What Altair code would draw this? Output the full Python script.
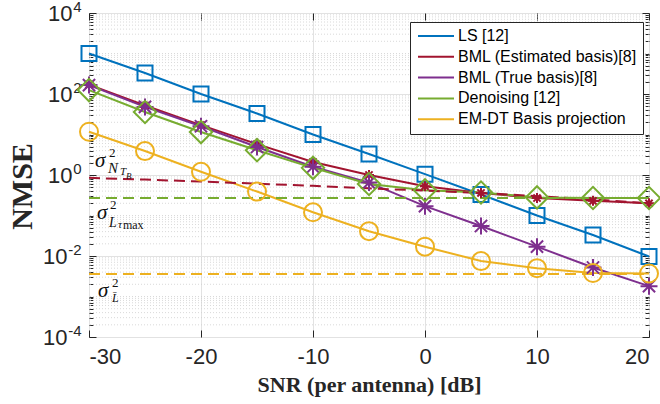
import altair as alt
import pandas as pd

# ---------------- data ----------------
snr = [-30, -25, -20, -15, -10, -5, 0, 5, 10, 15, 20]
ls_nmse = [1000, 330, 100, 33, 10, 3.3, 1.05, 0.33, 0.1, 0.033, 0.0097]
bml_est_nmse = [170, 52, 17, 5.8, 2.1, 1.0, 0.53, 0.36, 0.27, 0.23, 0.2]
bml_true_nmse = [166, 48, 16, 4.9, 1.6, 0.65, 0.17, 0.055, 0.017, 0.0052, 0.0018]
denoise_nmse = [125, 36, 11.5, 4.1, 1.5, 0.6, 0.42, 0.37, 0.28, 0.27, 0.27]
emdt_nmse = [11.7, 3.9, 1.2, 0.39, 0.12, 0.041, 0.017, 0.0075, 0.005, 0.0038, 0.0037]

methods = ["LS [12]", "BML (Estimated basis)[8]", "BML (True basis)[8]",
           "Denoising [12]", "EM-DT Basis projection"]
colors = ["#0072BD", "#A2142F", "#7E2F8E", "#77AC30", "#EDB120"]
series = [ls_nmse, bml_est_nmse, bml_true_nmse, denoise_nmse, emdt_nmse]

# dashed reference levels
ntb_snr = [-30, -25, -20, -15, -10, -5, 0, 5, 10, 15, 20]
ntb_nmse = [0.85, 0.77, 0.69, 0.61, 0.54, 0.47, 0.41, 0.36, 0.3, 0.25, 0.2]
ltau_snr = [-30, 20]
ltau_nmse = [0.27, 0.27]
lbar_snr = [-30, 20]
lbar_nmse = [0.0036, 0.0036]

x_ticks = [-30, -20, -10, 0, 10, 20]
y_ticks = [1e-4, 1e-2, 1, 1e2, 1e4]
y_ticks_neg = [1e-4, 1e-2]
y_minor = [m * 10.0 ** k for k in range(-4, 4) for m in range(2, 10)] + [1e-3, 1e-1, 1e1, 1e3]

# ---------------- layout ----------------
W, H = 560, 324
INK = "#262626"
xscale = alt.Scale(domain=[-30, 20], nice=False, zero=False)
yscale = alt.Scale(type="log", domain=[1e-4, 1e4], nice=False)

rows = []
for m, vals in zip(methods, series):
    for s, v in zip(snr, vals):
        rows.append({"method": m, "snr": s, "nmse": v})
df = pd.DataFrame(rows)


def tick_axis(orient, offset, values, size):
    return alt.Axis(orient=orient, offset=offset, values=values, tickSize=size,
                    ticks=True, labels=False, domain=False, grid=False, title=None,
                    tickColor=INK, tickWidth=1)


layers = []

# minor dotted grid (also carries inner minor ticks on the left edge)
minor_df = pd.DataFrame({"v": y_minor})
layers.append(
    alt.Chart(minor_df).mark_rule(color="#cfcfcf", strokeDash=[1, 2], strokeWidth=0.8).encode(
        y=alt.Y("v:Q", scale=yscale, axis=tick_axis("right", -W, y_minor, 4))
    )
)

# mantissa "10": positive exponents here, negative ones (wider exponent) on another axis
y_base_expr = "datum.value < 0.1 ? '' : '10'"
y_exp_expr = ("datum.value >= 1e3 ? '4' : datum.value >= 10 ? '2' : "
              "datum.value >= 0.1 ? '0' : datum.value >= 1e-3 ? '-2' : '-4'")
x_label_expr = "datum.value < 0 ? '-' + (-datum.value) : '' + datum.value"

lines = alt.Chart(df).mark_line(strokeWidth=2).encode(
    x=alt.X("snr:Q", scale=xscale, axis=alt.Axis(
        values=x_ticks, labelExpr=x_label_expr, grid=True, gridColor="#e2e2e2", gridWidth=1,
        ticks=False, tickSize=0, domain=False, labelFont="Liberation Sans", labelFontSize=22,
        labelColor=INK, labelPadding=9, title="SNR (per antenna) [dB]",
        titleFont="Liberation Serif", titleFontWeight="bold", titleFontSize=22,
        titleColor=INK, titleX=W / 2, titleY=54, titleBaseline="alphabetic",
        titleAlign="center")),
    y=alt.Y("nmse:Q", scale=yscale, axis=alt.Axis(
        values=y_ticks, labelExpr=y_base_expr, grid=True, gridColor="#e2e2e2", gridWidth=1,
        ticks=False, tickSize=0, domain=False, labelFont="Liberation Sans", labelFontSize=22,
        labelColor=INK, labelPadding=17, title="NMSE", titleFont="Liberation Serif",
        titleFontWeight="bold", titleFontSize=30, titleColor=INK, titleAngle=-90,
        titleX=-58, titleY=173, titleBaseline="alphabetic", titleAlign="center")),
    color=alt.Color("method:N", scale=alt.Scale(domain=methods, range=colors),
                    legend=alt.Legend(title=None, orient="none", legendX=321, legendY=9,
                                      fillColor="white", strokeColor=INK, padding=6,
                                      labelFont="Liberation Sans", labelFontSize=16,
                                      labelColor="#000000", symbolType="M-1,0L5,0",
                                      symbolSize=144, symbolStrokeWidth=2, labelOffset=26,
                                      rowPadding=4.8, labelLimit=400)),
)
layers.append(lines)

# dashed levels (carry the inner major ticks)
d1 = pd.DataFrame({"snr": ntb_snr, "nmse": ntb_nmse})
layers.append(alt.Chart(d1).mark_line(strokeWidth=2, strokeDash=[11, 6], color=colors[1]).encode(
    x=alt.X("snr:Q", scale=xscale, axis=tick_axis("top", -H, x_ticks, 7)),
    y=alt.Y("nmse:Q", scale=yscale, axis=tick_axis("right", -W, y_ticks, 7)),
))
d2 = pd.DataFrame({"snr": ltau_snr, "nmse": ltau_nmse})
layers.append(alt.Chart(d2).mark_line(strokeWidth=2, strokeDash=[11, 6], color=colors[3]).encode(
    x=alt.X("snr:Q", scale=xscale, axis=tick_axis("bottom", -H, x_ticks, 7)),
    y=alt.Y("nmse:Q", scale=yscale, axis=tick_axis("left", -W, y_ticks, 7)),
))
d3 = pd.DataFrame({"snr": lbar_snr, "nmse": lbar_nmse})
layers.append(alt.Chart(d3).mark_line(strokeWidth=2, strokeDash=[11, 6], color=colors[4]).encode(
    x=alt.X("snr:Q", scale=xscale, axis=None),
    y=alt.Y("nmse:Q", scale=yscale, axis=tick_axis("left", -W, y_minor, 4)),
))

exp_axis = alt.Axis(orient="left", values=y_ticks, labelExpr=y_exp_expr, ticks=False, tickSize=0,
                    domain=False, grid=False, title=None, labelFont="Liberation Sans",
                    labelFontSize=15, labelColor=INK, labelPadding=8, labelOffset=-7)
neg_base_axis = alt.Axis(orient="left", values=y_ticks_neg, labelExpr="'10'", ticks=False,
                         tickSize=0, domain=False, grid=False, title=None,
                         labelFont="Liberation Sans", labelFontSize=22, labelColor=INK,
                         labelPadding=22)
marker_axes = [exp_axis, neg_base_axis, None, None, None]

# markers
asterisk = "M0,-1L0,1M-1,0L1,0M-0.72,-0.72L0.72,0.72M-0.72,0.72L0.72,-0.72"
marker_specs = [
    ("square", 225),
    (asterisk, 100),
    (asterisk, 289),
    ("diamond", 500),
    ("circle", 324),
]
for m, c, (shape, size), ax in zip(methods, colors, marker_specs, marker_axes):
    layers.append(
        alt.Chart(df[df["method"] == m]).mark_point(
            shape=shape, size=size, filled=False, strokeWidth=2, color=c, opacity=1
        ).encode(
            x=alt.X("snr:Q", scale=xscale, axis=None),
            y=alt.Y("nmse:Q", scale=yscale, axis=ax),
        )
    )

# sigma annotations: anchor (snr, nmse) and pieces (text, size, dx, dy, italic)
anchors = [(-29.46, 1.58), (-29.29, 0.082), (-29.2, 0.00097)]
pieces = [
    [("σ", 21, 0, 0, True), ("2", 13, 14, -10, False), ("N", 15, 13, 6, True),
     ("T", 11, 25, 8, True), ("B", 9, 31, 12, True)],
    [("σ", 21, 0, 0, True), ("2", 13, 13, -10, False), ("L", 14, 12, 8, True),
     ("τ", 11, 21, 9, True), ("max", 12, 26, 10, False)],
    [("σ", 21, 0, 0, True), ("2", 13, 14, -10, False), ("L\u0304", 12, 14, 5, True)],
]
for (a_snr, a_nmse), plist in zip(anchors, pieces):
    adf = pd.DataFrame({"snr": [a_snr], "nmse": [a_nmse]})
    for txt, fs, dx, dy, it in plist:
        layers.append(
            alt.Chart(adf).mark_text(
                text=txt, align="left", baseline="alphabetic", dx=dx, dy=dy,
                fontSize=fs, font="Liberation Serif",
                fontStyle="italic" if it else "normal", color="#111111"
            ).encode(
                x=alt.X("snr:Q", scale=xscale, axis=None),
                y=alt.Y("nmse:Q", scale=yscale, axis=None),
            )
        )

chart = (
    alt.layer(*layers)
    .resolve_axis(x="independent", y="independent")
    .properties(width=W, height=H, background="white",
                autosize=alt.AutoSizeParams(type="none"),
                padding={"left": 89, "top": 13, "right": 11, "bottom": 67})
    .configure_view(stroke=INK, strokeWidth=1)
)

chart.save("out.html", embed_options={"renderer": "svg", "actions": False})
